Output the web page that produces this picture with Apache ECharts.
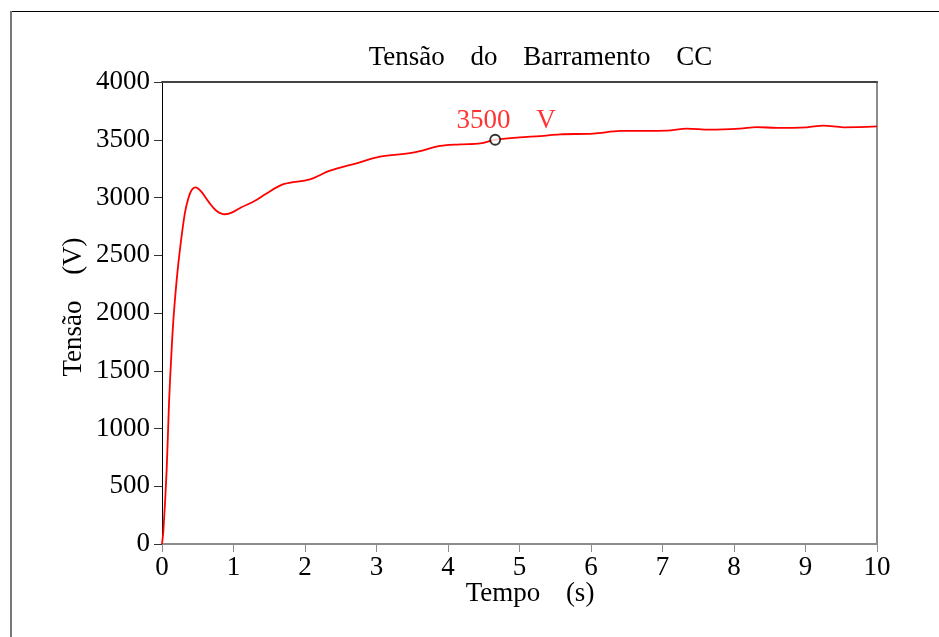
<!DOCTYPE html>
<html>
<head>
<meta charset="utf-8">
<script src="https://cdn.jsdelivr.net/npm/echarts@6/dist/echarts.min.js"></script>
<style>
  html, body { margin: 0; padding: 0; background: #fff; }
  #chart { width: 939px; height: 637px; }
</style>
</head>
<body>
<div id="chart"></div>
<script>
// DC bus voltage during start-up (seconds, volts)
const timeS = [0, 0.02, 0.065, 0.098, 0.126, 0.158, 0.205, 0.25, 0.32, 0.37, 0.415, 0.47, 0.55, 0.65, 0.76, 0.88, 0.975, 1.11, 1.30, 1.45, 1.70, 2.07, 2.35, 2.72, 3.05, 3.51, 3.89, 4.17, 4.45, 4.66, 5.0, 5.29, 5.57, 6.03, 6.41, 7.06, 7.34, 7.66, 8.08, 8.32, 8.60, 9.02, 9.25, 9.53, 10];
const voltageV = [0, 121, 640, 1220, 1580, 1930, 2285, 2545, 2865, 2995, 3065, 3088, 3050, 2964, 2886, 2855, 2869, 2915, 2972, 3030, 3115, 3157, 3232, 3296, 3353, 3388, 3446, 3460, 3469, 3500, 3520, 3532, 3547, 3553, 3576, 3579, 3596, 3587, 3596, 3610, 3602, 3608, 3622, 3608, 3616];

// Marked reading on the curve
const markerTime = 4.66;
const markerVolt = 3500;
const markerUnit = 'V';

const xTicks = { min: 0, max: 10, step: 1 };
const yTicks = { min: 0, max: 4000, step: 500 };

const gap = '\u00a0\u00a0\u00a0\u2009';
const serif = '"Liberation Serif", "Times New Roman", serif';

const chart = echarts.init(document.getElementById('chart'), null, { renderer: 'canvas' });

chart.setOption({
  animation: false,
  backgroundColor: '#ffffff',
  grid: { left: 162, right: 62, top: 82, bottom: 93, containLabel: false },
  xAxis: [{
    type: 'value',
    min: xTicks.min, max: xTicks.max, interval: xTicks.step,
    axisLine: { show: true, lineStyle: { color: '#8c8c8c', width: 2 } },
    axisTick: { show: true, length: 8, lineStyle: { color: '#8c8c8c', width: 1 } },
    axisLabel: { margin: 10, color: '#000', fontFamily: serif, fontSize: 27, formatter: v => String(v) },
    splitLine: { show: false }
  }, {
    type: 'value', position: 'top',
    min: xTicks.min, max: xTicks.max,
    axisLine: { show: true, onZero: false, lineStyle: { color: '#444', width: 2 } },
    axisTick: { show: false }, axisLabel: { show: false }, splitLine: { show: false }
  }],
  yAxis: [{
    type: 'value',
    min: yTicks.min, max: yTicks.max, interval: yTicks.step,
    axisLine: { show: true, lineStyle: { color: '#000', width: 1 } },
    axisTick: { show: true, length: 8, lineStyle: { color: '#333', width: 1 } },
    axisLabel: { margin: 12, color: '#000', fontFamily: serif, fontSize: 27, formatter: v => String(v) },
    splitLine: { show: false }
  }, {
    type: 'value', position: 'right',
    min: yTicks.min, max: yTicks.max,
    axisLine: { show: true, onZero: false, lineStyle: { color: '#8c8c8c', width: 2 } },
    axisTick: { show: false }, axisLabel: { show: false }, splitLine: { show: false }
  }],
  series: [{
    type: 'line',
    data: timeS.map((t, i) => [t, voltageV[i]]),
    smooth: 0.35,
    showSymbol: false,
    lineStyle: { color: '#ff0000', width: 1.8 },
    z: 3
  }, {
    type: 'scatter',
    data: [[markerTime, markerVolt]],
    symbol: 'circle',
    symbolSize: 10,
    itemStyle: { color: '#ffffff', borderColor: '#000', borderWidth: 1.8 },
    label: {
      show: true,
      position: 'inside',
      offset: [11, -18.5],
      align: 'center', verticalAlign: 'middle',
      formatter: p => p.value[1] + gap + markerUnit,
      color: '#ff0000', fontFamily: serif, fontSize: 27
    },
    z: 4
  }],
  graphic: [
    // window frame edges
    { type: 'line', shape: { x1: 11, y1: 11.5, x2: 939, y2: 11.5 }, style: { stroke: '#000', lineWidth: 1 } },
    { type: 'line', shape: { x1: 11, y1: 11, x2: 11, y2: 637 }, style: { stroke: '#777', lineWidth: 2 } },
    {
      type: 'text', x: 540.5, y: 58,
      style: { text: 'Tensão' + gap + 'do' + gap + 'Barramento' + gap + 'CC', fill: '#000', font: '27px ' + serif, textAlign: 'center', textVerticalAlign: 'middle' }
    },
    {
      type: 'text', x: 530, y: 594,
      style: { text: 'Tempo' + gap + '(s)', fill: '#000', font: '27px ' + serif, textAlign: 'center', textVerticalAlign: 'middle' }
    },
    {
      type: 'text', x: 74, y: 307, rotation: Math.PI / 2,
      style: { text: 'Tensão' + gap + '(V)', fill: '#000', font: '27px ' + serif, textAlign: 'center', textVerticalAlign: 'middle' }
    }
  ]
});
</script>
</body>
</html>
